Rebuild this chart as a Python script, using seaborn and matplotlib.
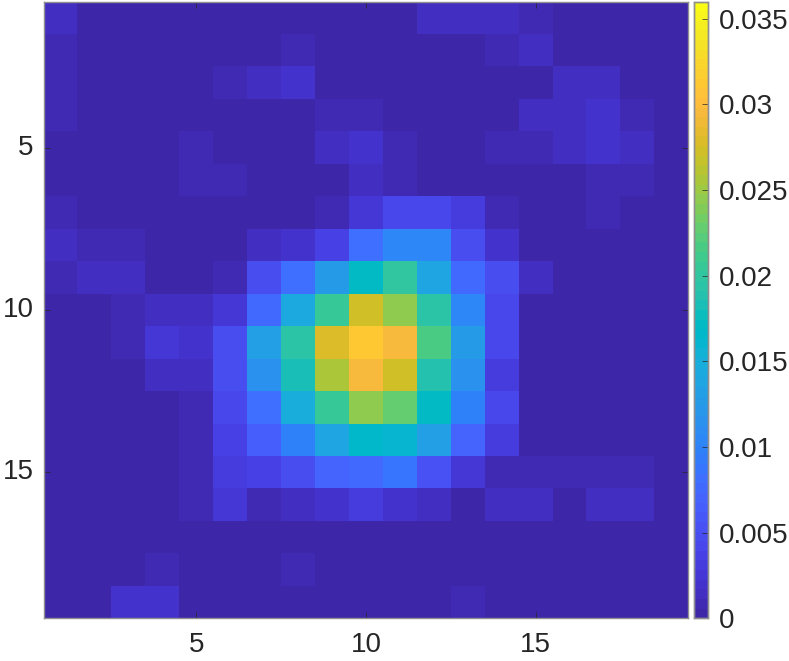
import numpy as np
import matplotlib.pyplot as plt
import seaborn as sns
from matplotlib.colors import ListedColormap

# values
row_01 = [.0016, .0003, .0003, .0003, .0003, .0003, .0003, .0003, .0003, .0003, .0003, .0016, .0016, .0016, .0010, .0003, .0003, .0003, .0003]
row_02 = [.0008, .0003, .0003, .0003, .0003, .0003, .0003, .0006, .0003, .0003, .0003, .0003, .0003, .0009, .0013, .0003, .0003, .0003, .0003]
row_03 = [.0008, .0003, .0003, .0003, .0003, .0010, .0014, .0018, .0002, .0002, .0002, .0002, .0002, .0002, .0002, .0013, .0013, .0003, .0003]
row_04 = [.0008, .0003, .0003, .0003, .0003, .0004, .0004, .0004, .0007, .0007, .0003, .0003, .0003, .0005, .0012, .0012, .0017, .0009, .0003]
row_05 = [.0002, .0002, .0002, .0004, .0008, .0004, .0003, .0003, .0013, .0017, .0008, .0003, .0003, .0008, .0011, .0016, .0020, .0012, .0003]
row_06 = [.0002, .0002, .0002, .0002, .0010, .0010, .0003, .0003, .0003, .0013, .0009, .0003, .0003, .0003, .0003, .0003, .0008, .0010, .0003]
row_07 = [.0009, .0003, .0003, .0003, .0003, .0004, .0004, .0004, .0007, .0027, .0040, .0040, .0031, .0006, .0003, .0003, .0007, .0003, .0003]
row_08 = [.0015, .0011, .0006, .0003, .0003, .0003, .0014, .0020, .0036, .0083, .0105, .0105, .0048, .0018, .0003, .0003, .0003, .0003, .0003]
row_09 = [.0008, .0013, .0014, .0003, .0003, .0010, .0047, .0082, .0126, .0171, .0200, .0137, .0078, .0045, .0014, .0003, .0003, .0003, .0003]
row_10 = [.0003, .0003, .0011, .0016, .0013, .0027, .0075, .0145, .0208, .0272, .0246, .0195, .0105, .0042, .0003, .0003, .0003, .0003, .0003]
row_11 = [.0003, .0003, .0009, .0028, .0017, .0047, .0132, .0195, .0280, .0312, .0298, .0215, .0125, .0040, .0005, .0003, .0003, .0003, .0003]
row_12 = [.0003, .0003, .0005, .0012, .0012, .0047, .0118, .0180, .0255, .0298, .0275, .0188, .0118, .0032, .0003, .0003, .0003, .0003, .0003]
row_13 = [.0003, .0003, .0003, .0003, .0006, .0040, .0082, .0150, .0205, .0245, .0225, .0172, .0100, .0044, .0003, .0003, .0003, .0003, .0003]
row_14 = [.0003, .0003, .0003, .0003, .0006, .0037, .0065, .0098, .0135, .0165, .0163, .0132, .0072, .0032, .0003, .0003, .0005, .0003, .0003]
row_15 = [.0003, .0003, .0003, .0003, .0006, .0033, .0038, .0050, .0068, .0075, .0085, .0052, .0028, .0010, .0007, .0007, .0010, .0010, .0003]
row_16 = [.0003, .0003, .0003, .0003, .0009, .0026, .0011, .0012, .0022, .0033, .0019, .0012, .0003, .0012, .0012, .0005, .0013, .0013, .0003]
row_17 = [.0003, .0003, .0003, .0003, .0003, .0005, .0005, .0002, .0005, .0002, .0002, .0002, .0002, .0002, .0002, .0002, .0002, .0002, .0002]
row_18 = [.0003, .0003, .0003, .0008, .0003, .0003, .0003, .0009, .0003, .0003, .0003, .0003, .0005, .0003, .0003, .0003, .0003, .0003, .0003]
row_19 = [.0003, .0003, .0018, .0018, .0003, .0003, .0003, .0003, .0003, .0003, .0003, .0004, .0011, .0004, .0003, .0003, .0003, .0003, .0003]

rows = [row_01, row_02, row_03, row_04, row_05, row_06, row_07, row_08, row_09, row_10,
        row_11, row_12, row_13, row_14, row_15, row_16, row_17, row_18, row_19]

axis_ticks = [5, 10, 15]
cbar_ticks = [0, 0.005, 0.01, 0.015, 0.02, 0.025, 0.03, 0.035]
cbar_labels = ['0', '0.005', '0.01', '0.015', '0.02', '0.025', '0.03', '0.035']

parula = ListedColormap([
    [0.2422, 0.1504, 0.6603], [0.2504, 0.1650, 0.7076], [0.2578, 0.1818, 0.7511], [0.2647, 0.1978, 0.7952],
    [0.2706, 0.2147, 0.8364], [0.2751, 0.2342, 0.8710], [0.2783, 0.2559, 0.8991], [0.2803, 0.2782, 0.9221],
    [0.2813, 0.3006, 0.9414], [0.2810, 0.3228, 0.9579], [0.2795, 0.3447, 0.9717], [0.2760, 0.3667, 0.9829],
    [0.2699, 0.3892, 0.9906], [0.2602, 0.4123, 0.9952], [0.2440, 0.4358, 0.9988], [0.2206, 0.4603, 0.9973],
    [0.1963, 0.4847, 0.9892], [0.1834, 0.5074, 0.9798], [0.1786, 0.5289, 0.9682], [0.1764, 0.5499, 0.9520],
    [0.1687, 0.5703, 0.9359], [0.1540, 0.5902, 0.9218], [0.1460, 0.6091, 0.9079], [0.1380, 0.6276, 0.8973],
    [0.1248, 0.6459, 0.8883], [0.1113, 0.6635, 0.8763], [0.0952, 0.6798, 0.8598], [0.0689, 0.6948, 0.8394],
    [0.0297, 0.7082, 0.8163], [0.0036, 0.7203, 0.7917], [0.0067, 0.7312, 0.7660], [0.0433, 0.7411, 0.7394],
    [0.0964, 0.7500, 0.7120], [0.1408, 0.7584, 0.6842], [0.1717, 0.7670, 0.6554], [0.1938, 0.7758, 0.6251],
    [0.2161, 0.7843, 0.5923], [0.2470, 0.7918, 0.5567], [0.2906, 0.7973, 0.5188], [0.3406, 0.8008, 0.4789],
    [0.3909, 0.8029, 0.4354], [0.4456, 0.8024, 0.3909], [0.5044, 0.7993, 0.3480], [0.5616, 0.7942, 0.3045],
    [0.6174, 0.7876, 0.2612], [0.6720, 0.7793, 0.2227], [0.7242, 0.7698, 0.1910], [0.7738, 0.7598, 0.1646],
    [0.8203, 0.7498, 0.1535], [0.8634, 0.7406, 0.1596], [0.9035, 0.7330, 0.1774], [0.9393, 0.7288, 0.2100],
    [0.9728, 0.7298, 0.2394], [0.9956, 0.7434, 0.2371], [0.9970, 0.7659, 0.2199], [0.9952, 0.7861, 0.1967],
    [0.9892, 0.8136, 0.1885], [0.9786, 0.8386, 0.1766], [0.9676, 0.8639, 0.1643], [0.9610, 0.8890, 0.1537],
    [0.9597, 0.9135, 0.1423], [0.9628, 0.9373, 0.1265], [0.9691, 0.9606, 0.1064], [0.9769, 0.9839, 0.0805],
])

plt.rcParams['font.family'] = ['Liberation Sans', 'DejaVu Sans']

W, H = 789, 661
fig = plt.figure(figsize=(W / 100, H / 100), dpi=100)
ax = fig.add_axes([43.5 / W, 1 - 618.3 / H, 644.8 / W, 616.8 / H])
cax = fig.add_axes([694.4 / W, 1 - 618.3 / H, 13.4 / W, 616.8 / H])

sns.heatmap(np.array(rows), ax=ax, cbar_ax=cax, cmap=parula, vmin=0, vmax=0.036,
            square=False, linewidths=0, rasterized=False)

ink = '#262626'
edge = '#8f8f8f'

# MATLAB style box, ticks pointing in on all sides
ax.set_xticks([t - 0.5 for t in axis_ticks])
ax.set_xticklabels(axis_ticks, rotation=0)
ax.set_yticks([t - 0.5 for t in axis_ticks])
ax.set_yticklabels(axis_ticks, rotation=0)
ax.tick_params(axis='both', direction='in', length=4.5, width=0.5, color=ink,
               labelcolor=ink, labelsize=20, top=True, right=True)
ax.tick_params(axis='x', pad=10)
ax.tick_params(axis='y', pad=7)
for s in ax.spines.values():
    s.set_visible(True)
    s.set_color(edge)
    s.set_linewidth(1)

cax.set_yticks(cbar_ticks)
cax.set_yticklabels(cbar_labels)
cax.tick_params(axis='y', direction='in', length=4.5, width=0.5, color=ink,
                labelcolor=ink, labelsize=20, pad=8)
for s in cax.spines.values():
    s.set_visible(True)
    s.set_color(edge)
    s.set_linewidth(1)

fig.savefig('out.png', dpi=100)
plt.close(fig)
